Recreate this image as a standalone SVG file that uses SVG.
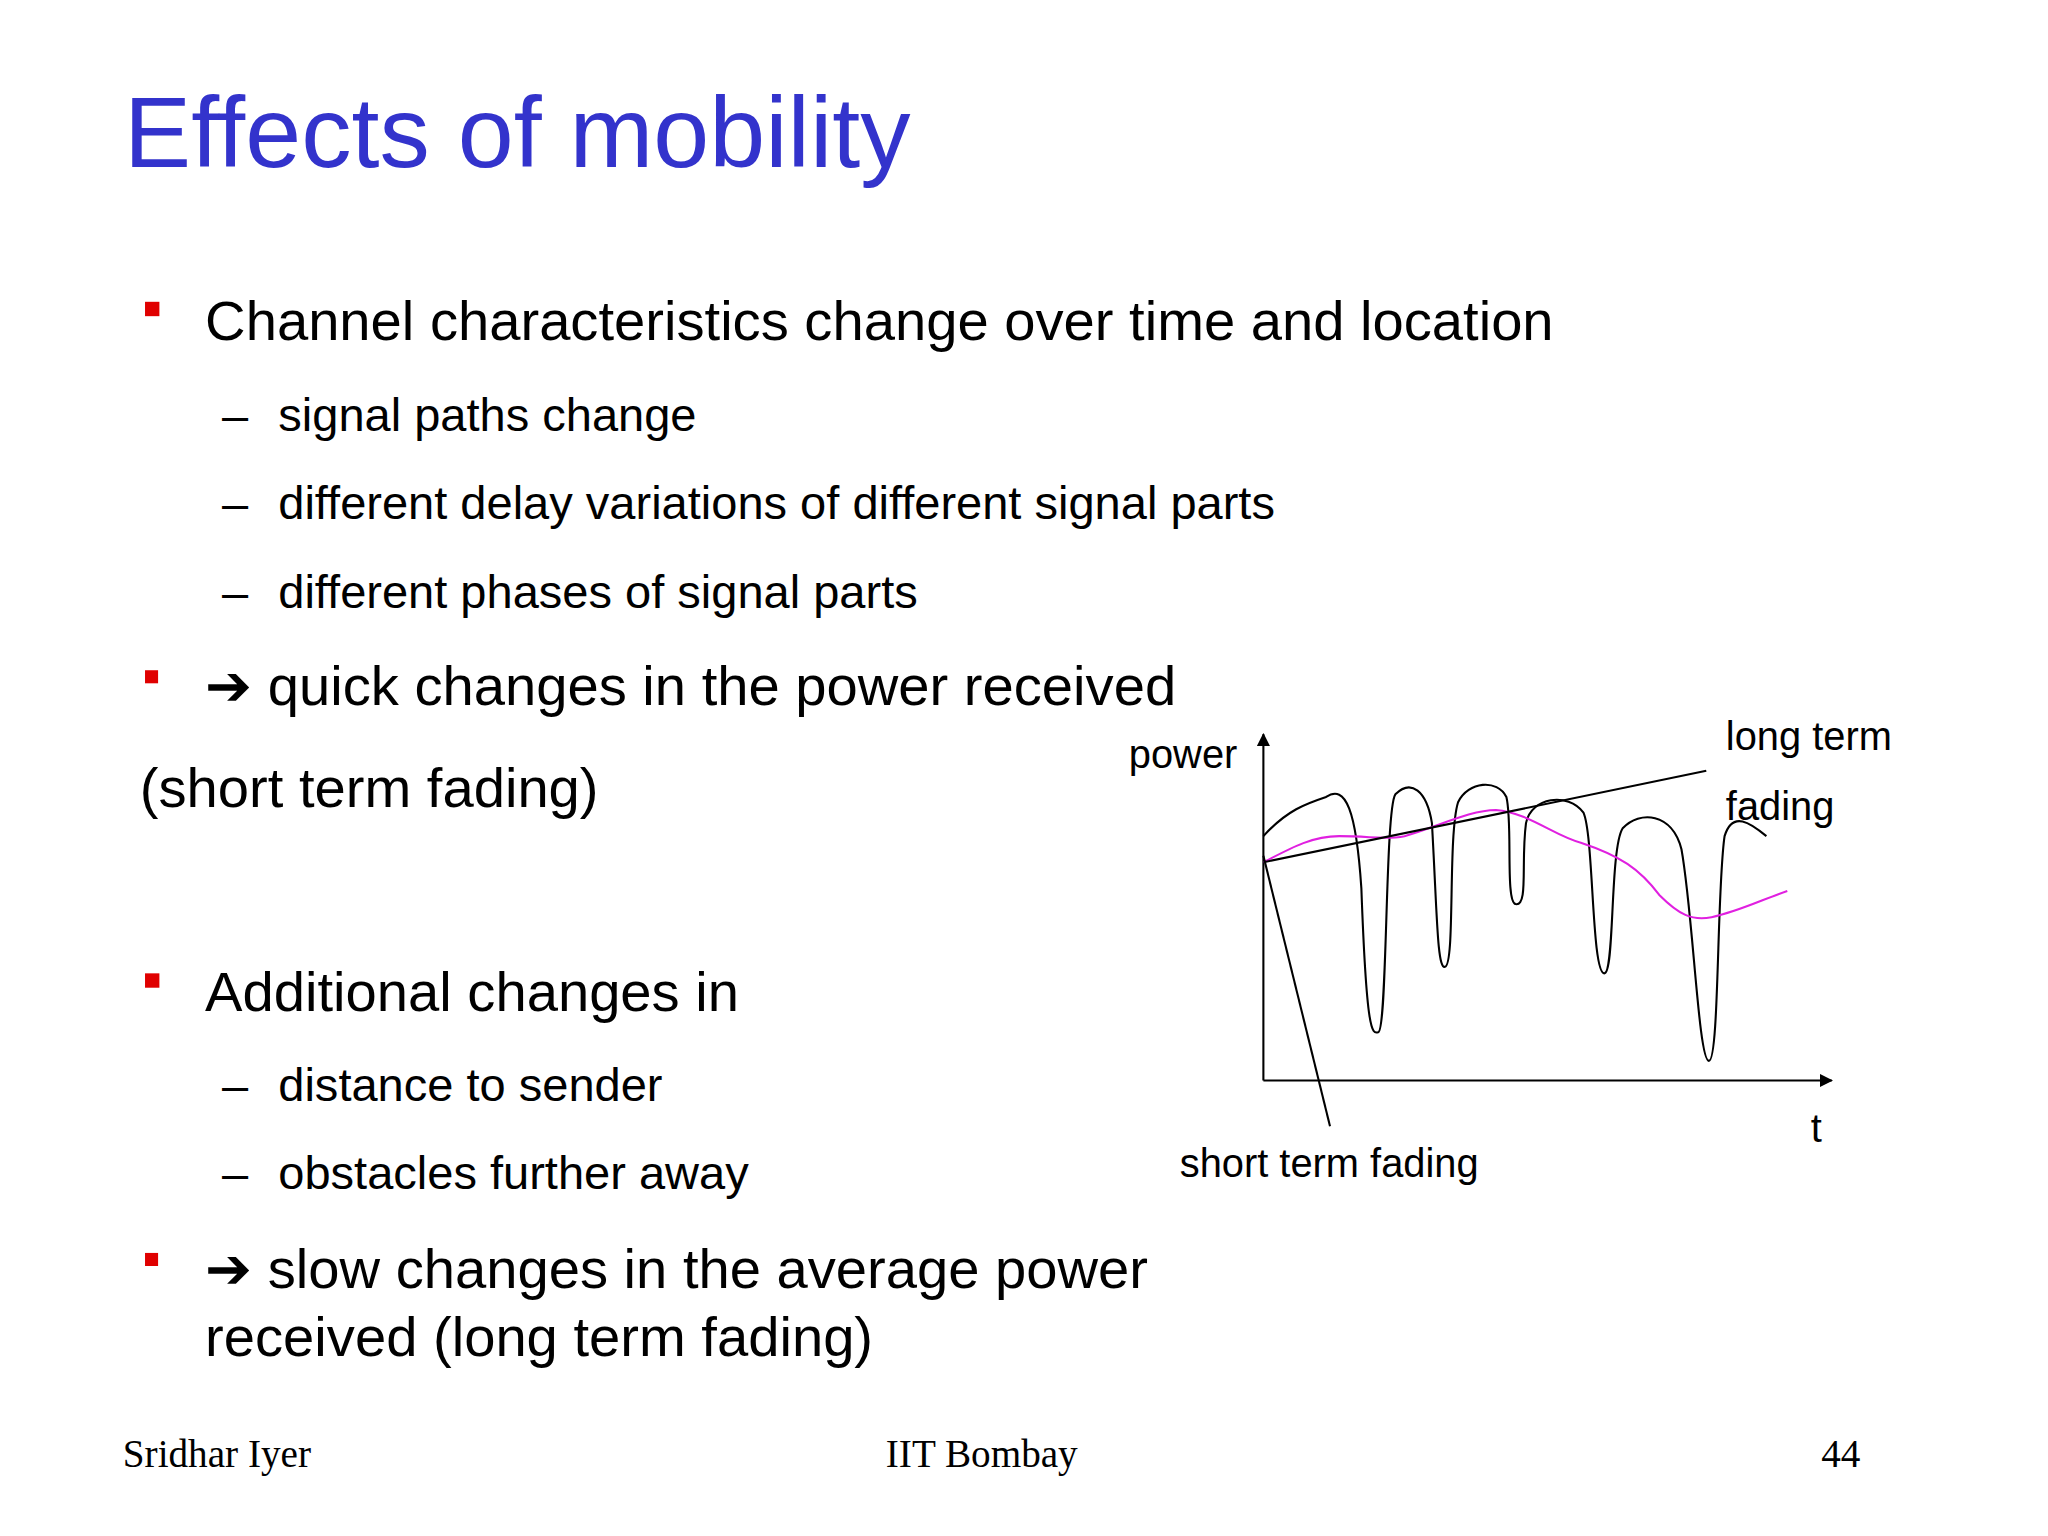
<svg xmlns="http://www.w3.org/2000/svg" width="2048" height="1536" viewBox="0 0 2048 1536">
<style>
.s{font-family:"Liberation Sans",Arial,sans-serif;fill:#000}
.b{fill:#e00000}
.f{font-family:"Liberation Serif","Times New Roman",serif;font-size:30px;fill:#000}
.ln{fill:none;stroke:#000;stroke-width:1.6}
</style>
<defs><marker id="ah" markerWidth="10" markerHeight="10" refX="9" refY="5" orient="auto" markerUnits="userSpaceOnUse"><path d="M0,0 L10,5 L0,10 z" fill="#000"/></marker></defs>
<rect width="2048" height="1536" fill="#fff"/>
<g transform="scale(1.3065)">
<text x="95" y="128" style="font-family:'Liberation Sans',Arial,sans-serif;font-size:77px;fill:#3333cc">Effects of mobility</text>
<rect class="b" x="111" y="231" width="11" height="11"/>
<text class="s" x="157" y="260" font-size="43">Channel characteristics change over time and location</text>
<g class="s" font-size="36">
<text x="170" y="330">–</text><text x="213" y="330">signal paths change</text>
<text x="170" y="397">–</text><text x="213" y="397">different delay variations of different signal parts</text>
<text x="170" y="465">–</text><text x="213" y="465">different phases of signal parts</text>
<text x="170" y="843">–</text><text x="213" y="843">distance to sender</text>
<text x="170" y="910">–</text><text x="213" y="910">obstacles further away</text>
</g>
<rect class="b" x="111" y="513" width="10" height="10"/>
<text class="s" x="157" y="540" font-size="43">➔ quick changes in the power received</text>
<text class="s" x="107" y="618" font-size="43">(short term fading)</text>
<rect class="b" x="111" y="745" width="11" height="11"/>
<text class="s" x="157" y="774" font-size="43">Additional changes in</text>
<rect class="b" x="111" y="959" width="10" height="10"/>
<text class="s" x="157" y="986" font-size="43">➔ slow changes in the average power</text>
<text class="s" x="157" y="1038" font-size="43">received (long term fading)</text>
<g id="chart">
<line class="ln" x1="967" y1="827" x2="967" y2="562" marker-end="url(#ah)"/>
<line class="ln" x1="967" y1="827" x2="1402" y2="827" marker-end="url(#ah)"/>
<path class="ln" d="M967,640 C985,620 1000,615 1015,610 C1030,600 1038,620 1042,680 C1046,790 1050,792 1055,790 C1062,788 1060,620 1068,608 C1080,596 1092,605 1096,630 C1100,700 1100,742 1106,740 C1114,738 1108,640 1116,614 C1124,598 1146,596 1153,610 C1158,630 1152,690 1160,692 C1170,694 1164,660 1168,630 C1172,610 1200,606 1212,622 C1220,640 1218,745 1228,745 C1236,745 1232,650 1242,634 C1255,620 1280,622 1287,650 C1296,700 1300,812 1308,812 C1316,812 1314,680 1320,640 C1326,620 1340,630 1352,640"/>
<path fill="none" stroke="#e020e0" stroke-width="1.6" d="M967,660 C990,648 1005,640 1025,640 C1050,640 1060,643 1075,640 C1100,633 1125,620 1145,620 C1170,622 1190,640 1210,645 C1240,655 1255,665 1270,685 C1285,700 1295,705 1310,702 C1330,698 1350,688 1368,682"/>
<line class="ln" x1="967" y1="660" x2="1306" y2="590"/>
<line class="ln" x1="967" y1="655" x2="1018" y2="862"/>
<text class="s" x="864" y="588" font-size="30.5">power</text>
<text class="s" x="1321" y="574" font-size="30.5">long term</text>
<text class="s" x="1321" y="628" font-size="30.5">fading</text>
<text class="s" x="1386" y="874" font-size="30.5">t</text>
<text class="s" x="903" y="901" font-size="30.5">short term fading</text>
</g>
<text class="f" x="94" y="1123">Sridhar Iyer</text>
<text class="f" x="678" y="1123">IIT Bombay</text>
<text class="f" x="1394" y="1123">44</text>
</g>
</svg>
